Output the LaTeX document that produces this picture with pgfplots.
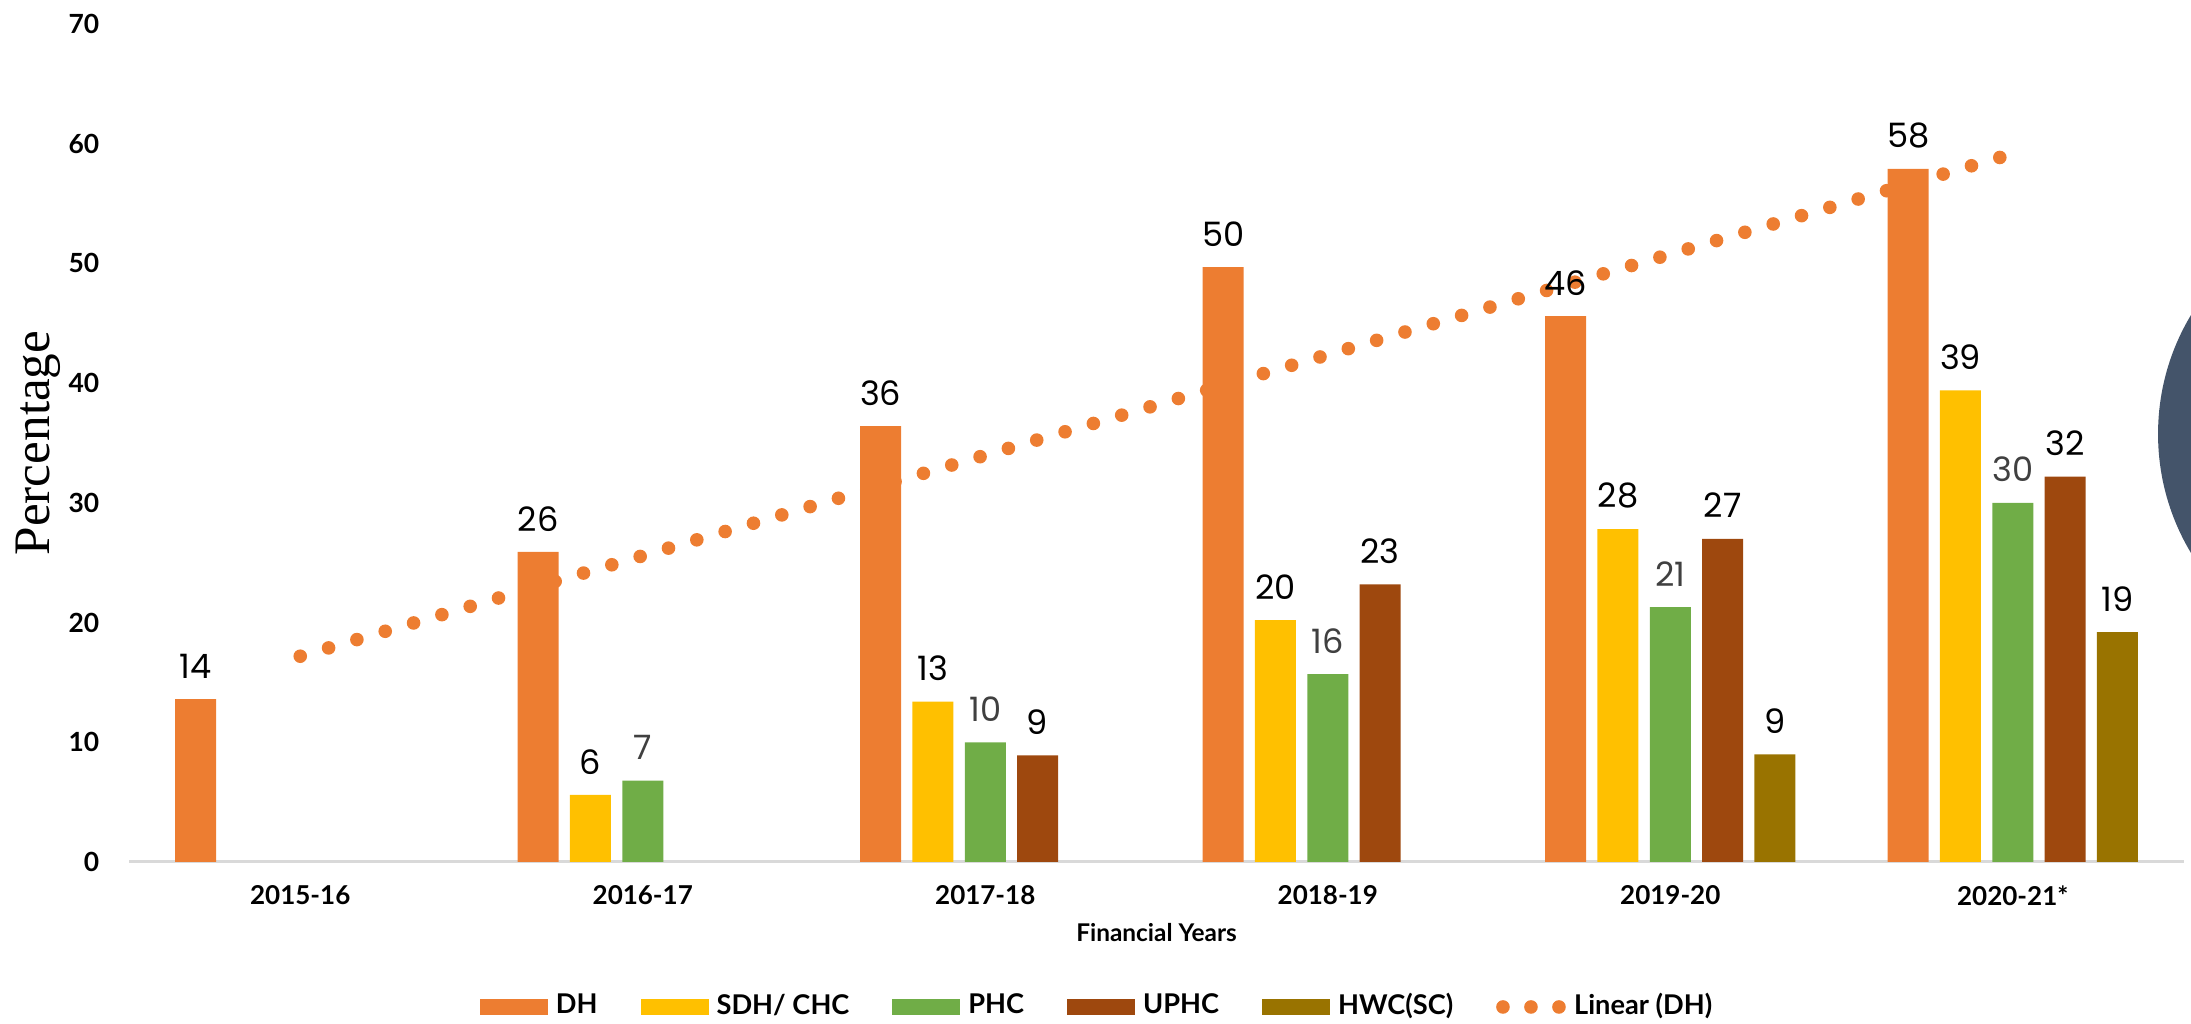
\documentclass[border=0pt]{standalone}
\usepackage{pgfplots}
\pgfplotsset{compat=1.18}
\usepackage{fontspec}
\setmainfont{Lato}
\newfontfamily\numfont{Poppins}
\newfontfamily\serifname{Liberation Serif}
\definecolor{cDH}{HTML}{ED7D31}
\definecolor{cSDH}{HTML}{FFC000}
\definecolor{cPHC}{HTML}{70AD47}
\definecolor{cUPHC}{HTML}{9E480E}
\definecolor{cHWC}{HTML}{997300}
\definecolor{cSlate}{HTML}{44546A}
\definecolor{cGrayLab}{HTML}{404040}
\begin{document}
\begin{tikzpicture}
\useasboundingbox (0,0) rectangle (547.75pt,256pt);
\begin{scope}
\clip (0,0) rectangle (547.75pt,256pt);
\fill[cSlate] (597.25pt,147.5pt) circle (57.75pt);
\end{scope}
\begin{axis}[
  at={(32.25pt,40.5pt)}, anchor=south west,
  width=513.75pt, height=209.5pt, scale only axis,
  xmin=-0.5, xmax=5.5, ymin=0, ymax=70,
  xtick={0,1,2,3,4,5},
  xticklabels={2015-16,2016-17,2017-18,2018-19,2019-20,2020-21*},
  ytick={0,10,...,70},
  major tick length=0pt,
  axis x line*=bottom, axis y line*=left,
  x axis line style={draw=black!15, line width=0.75pt, -},
  y axis line style={draw=none, -},
  /pgf/number format/assume math mode=true,
  yticklabel style={font=\fontsize{6.6}{7}\selectfont\bfseries, anchor=east, inner sep=0pt, xshift=-7.25pt},
  xticklabel style={font=\fontsize{6.5}{7}\selectfont\bfseries, anchor=north, inner sep=0pt, yshift=-5.75pt},
  xlabel={Financial Years},
  xlabel style={at={(axis description cs:0.5,0)}, anchor=center, yshift=-17.75pt, font=\fontsize{6.1}{7}\selectfont\bfseries},
  ylabel={Percentage},
  ylabel style={at={(axis description cs:0,0.5)}, anchor=center, yshift=22.75pt, font=\serifname\fontsize{12.8}{14}\selectfont},
  every node near coord/.append style={font=\numfont\fontsize{8.4}{9}\selectfont, anchor=south, inner sep=0pt, yshift=5pt},
  nodes near coords={\pgfmathprintnumber[fixed,precision=0]{\pgfplotspointmeta}},
  legend style={at={(axis description cs:0.4706,-0.173)}, anchor=center, draw=none, fill=none,
    legend columns=6, font=\fontsize{6.8}{8}\selectfont\bfseries,
    /tikz/every odd column/.append style={column sep=2pt},
    /tikz/every even column/.append style={column sep=10.75pt},
    nodes={inner sep=0pt}},
  legend cell align=left,
]
\addplot[ybar, bar width=10.25pt, bar shift=-26.15pt, fill=cDH, draw=none,
  every node near coord/.append style={xshift=-26.15pt},
  legend image code/.code={\fill[cDH] (0pt,-2pt) rectangle (17pt,2pt);}]
  coordinates {(0,13.6) (1,25.9) (2,36.4) (3,49.7) (4,45.6) (5,57.9)};
\addplot[ybar, bar width=10.25pt, bar shift=-13.075pt, fill=cSDH, draw=none,
  every node near coord/.append style={xshift=-13.075pt},
  legend image code/.code={\fill[cSDH] (0pt,-2pt) rectangle (17pt,2pt);}]
  coordinates {(1,5.6) (2,13.4) (3,20.2) (4,27.8) (5,39.4)};
\addplot[ybar, bar width=10.25pt, bar shift=0pt, fill=cPHC, draw=none,
  every node near coord/.append style={text=cGrayLab},
  legend image code/.code={\fill[cPHC] (0pt,-2pt) rectangle (17pt,2pt);}]
  coordinates {(1,6.8) (2,10.0) (3,15.7) (4,21.3) (5,30.0)};
\addplot[ybar, bar width=10.25pt, bar shift=13.075pt, fill=cUPHC, draw=none,
  every node near coord/.append style={xshift=13.075pt},
  legend image code/.code={\fill[cUPHC] (0pt,-2pt) rectangle (17pt,2pt);}]
  coordinates {(2,8.9) (3,23.2) (4,27.0) (5,32.2)};
\addplot[ybar, bar width=10.25pt, bar shift=26.15pt, fill=cHWC, draw=none,
  every node near coord/.append style={xshift=26.15pt},
  legend image code/.code={\fill[cHWC] (0pt,-2pt) rectangle (17pt,2pt);}]
  coordinates {(4,9.0) (5,19.2)};
\addplot[cDH, line width=3.4pt, line cap=round, dash pattern=on 0pt off 7.38pt, no marks, sharp plot, nodes near coords={},
  legend image code/.code={\draw[cDH, line width=3.4pt, line cap=round, dash pattern=on 0pt off 7pt] (1.5pt,0pt) -- (15.6pt,0pt);}]
  coordinates {(0,17.19) (5,59.17)};
\legend{DH,SDH/ CHC,PHC,UPHC,HWC(SC),Linear (DH)}
\end{axis}
\end{tikzpicture}
\end{document}
